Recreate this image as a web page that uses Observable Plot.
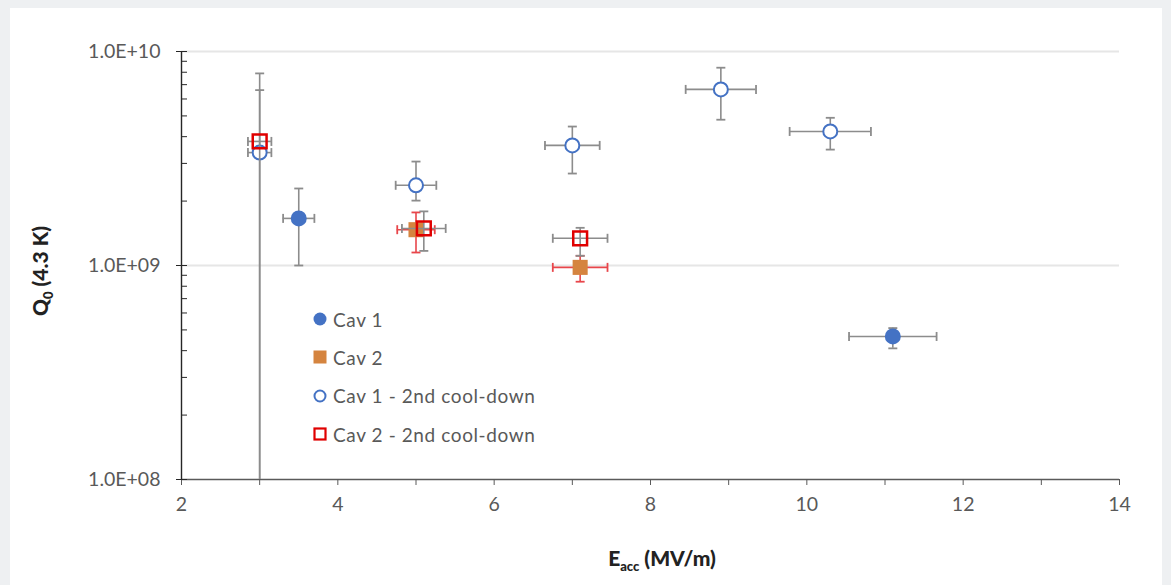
<!DOCTYPE html>
<html><head><meta charset="utf-8">
<script src="https://cdn.jsdelivr.net/npm/d3@7"></script>
<script src="https://cdn.jsdelivr.net/npm/@observablehq/plot@0.6"></script>
<style>
body{margin:0;background:#eef0f2;width:1171px;height:585px;overflow:hidden;position:relative;font-family:Lato,"Open Sans",sans-serif}
#panel{position:absolute;left:10px;top:8px;width:1152px;height:577px;background:#fff}
#chart{position:absolute;left:0;top:0}
#legend{position:absolute;left:312px;top:300px;color:#595959;font-size:19px;letter-spacing:0.6px}
.row{height:38.3px;display:flex;align-items:center}
.row svg{margin-right:5px}
</style>
</head><body>
<div id="panel"></div>
<div id="chart"></div>
<div id="legend"></div>
<script>
// ---- data ----
const seriesNames = ["Cav 1", "Cav 2", "Cav 1 - 2nd cool-down", "Cav 2 - 2nd cool-down"];

const cav1E = [3.5, 11.1];
const cav1Q = [1.66e9, 4.66e8];
const cav1Eerr = [0.2, 0.56];
const cav1Qlo = [1.0e9, 4.1e8];
const cav1Qhi = [2.29e9, 5.1e8];

const cav2E = [5.0, 7.1];
const cav2Q = [1.47e9, 0.98e9];
const cav2Eerr = [0.24, 0.35];
const cav2Qlo = [1.15e9, 0.84e9];
const cav2Qhi = [1.77e9, 1.11e9];

const cav1bE = [3.0, 5.0, 7.0, 8.9, 10.3];
const cav1bQ = [3.37e9, 2.37e9, 3.64e9, 6.65e9, 4.23e9];
const cav1bEerr = [0.15, 0.26, 0.35, 0.45, 0.52];
const cav1bQlo = [1e8, 2.01e9, 2.69e9, 4.8e9, 3.48e9];
const cav1bQhi = [6.6e9, 3.06e9, 4.46e9, 8.4e9, 4.9e9];

const cav2bE = [3.0, 5.1, 7.1];
const cav2bQ = [3.8e9, 1.49e9, 1.34e9];
const cav2bEerr = [0.15, 0.28, 0.35];
const cav2bQlo = [1e8, 1.17e9, 1.11e9];
const cav2bQhi = [7.9e9, 1.79e9, 1.5e9];

const xTicks = [2, 4, 6, 8, 10, 12, 14];
const xMinorTicks = [2, 3, 4, 5, 6, 7, 8, 9, 10, 11, 12, 13, 14];
const yTicks = [1e8, 1e9, 1e10];
const yTickLabels = ["1.0E+08", "1.0E+09", "1.0E+10"];
const yMinorTicks = [2e8,3e8,4e8,5e8,6e8,7e8,8e8,9e8,2e9,3e9,4e9,5e9,6e9,7e9,8e9,9e9];

// ---- build rows ----
const rows = (name, xs, qs, xe, lo, hi) => xs.map((x, i) => ({
  series: name, x, q: qs[i], xlo: x - xe[i], xhi: x + xe[i], qlo: lo[i], qhi: hi[i]
}));
const d1 = rows(seriesNames[0], cav1E, cav1Q, cav1Eerr, cav1Qlo, cav1Qhi);
const d2 = rows(seriesNames[1], cav2E, cav2Q, cav2Eerr, cav2Qlo, cav2Qhi);
const d3b = rows(seriesNames[2], cav1bE, cav1bQ, cav1bEerr, cav1bQlo, cav1bQhi);
const d4 = rows(seriesNames[3], cav2bE, cav2bQ, cav2bEerr, cav2bQlo, cav2bQhi);

const capH = {draw(ctx, size) { const r = Math.sqrt(size / Math.PI); ctx.moveTo(-r, 0); ctx.lineTo(r, 0); }};
const capV = {draw(ctx, size) { const r = Math.sqrt(size / Math.PI); ctx.moveTo(0, -r); ctx.lineTo(0, r); }};

const grey = "#8c8c8c", red = "#e8464b";
function errorBars(data, color) {
  return [
    Plot.ruleX(data, {x: "x", y1: "qlo", y2: "qhi", stroke: color, strokeWidth: 1.6}),
    Plot.ruleY(data, {y: "q", x1: "xlo", x2: "xhi", stroke: color, strokeWidth: 1.6}),
    Plot.dot(data.filter(d => d.qlo > 1e8), {x: "x", y: "qlo", symbol: capH, r: 4.5, stroke: color, strokeWidth: 1.8, fill: "none"}),
    Plot.dot(data, {x: "x", y: "qhi", symbol: capH, r: 4.5, stroke: color, strokeWidth: 1.8, fill: "none"}),
    Plot.dot(data, {x: "xlo", y: "q", symbol: capV, r: 4.5, stroke: color, strokeWidth: 1.8, fill: "none"}),
    Plot.dot(data, {x: "xhi", y: "q", symbol: capV, r: 4.5, stroke: color, strokeWidth: 1.8, fill: "none"})
  ];
}

const fmtY = d => yTickLabels[yTicks.indexOf(d)];

const chart = Plot.plot({
  width: 1171, height: 585,
  marginLeft: 181, marginRight: 52, marginTop: 51, marginBottom: 106,
  style: {background: "transparent", color: "#595959", fontFamily: "Lato, 'Open Sans', sans-serif", fontSize: "19.5px"},
  x: {domain: [2, 14], axis: null},
  y: {type: "log", domain: [1e8, 1e10], axis: null},
  marks: [
    Plot.ruleY([1e9, 1e10], {stroke: "#e6e6e6", strokeWidth: 2}),
    Plot.ruleY([1e8], {stroke: "#5a5a5a", strokeWidth: 1.4}),
    Plot.ruleX([2], {stroke: "#262626", strokeWidth: 1.4}),
    Plot.axisX({ticks: xMinorTicks, tickSize: 6, tickFormat: () => "", stroke: "#5a5a5a", label: null}),
    Plot.axisX({ticks: xTicks, tickSize: 0, tickPadding: 18, label: null}),
    Plot.axisY({ticks: yTicks, tickSize: 5, tickPadding: 16, tickFormat: fmtY, stroke: "#262626", label: null}),
    Plot.axisY({ticks: yTicks, tickSize: -6, tickFormat: () => "", stroke: "#262626", label: null}),
    Plot.axisY({ticks: yMinorTicks, tickSize: -6, tickFormat: () => "", stroke: "#262626", label: null}),
    ...errorBars(d1, grey),
    Plot.dot(d1, {x: "x", y: "q", r: 8, fill: "#4472c4"}),
    ...errorBars(d2, red),
    Plot.dot(d2, {x: "x", y: "q", symbol: "square", r: 8.5, fill: "#d5843f"}),
    ...errorBars(d3b, grey),
    Plot.dot(d3b, {x: "x", y: "q", r: 7, fill: "white", stroke: "#4472c4", strokeWidth: 2}),
    ...errorBars(d4, grey),
    Plot.dot(d4, {x: "x", y: "q", symbol: "square", r: 7.8, fill: "none", stroke: "#e00000", strokeWidth: 2.5})
  ]
});
document.getElementById("chart").appendChild(chart);

// axis titles
const svg = d3.select(chart);
const yt = svg.append("text")
  .attr("transform", "translate(48,271) rotate(-90)")
  .attr("text-anchor", "middle")
  .attr("font-weight", "900").attr("font-size", 21).attr("fill", "#222");
yt.append("tspan").text("Q");
yt.append("tspan").attr("font-size", 13).attr("dy", 5).text("0");
yt.append("tspan").attr("dy", -5).text(" (4.3 K)");

const xt = svg.append("text")
  .attr("x", 662).attr("y", 566)
  .attr("text-anchor", "middle")
  .attr("font-weight", "900").attr("font-size", 21).attr("fill", "#222");
xt.append("tspan").text("E");
xt.append("tspan").attr("font-size", 13).attr("dy", 5).text("acc");
xt.append("tspan").attr("dy", -5).text(" (MV/m)");

// legend
const icons = [
  '<svg width="16" height="16"><circle cx="8" cy="8" r="6.5" fill="#4472c4"/></svg>',
  '<svg width="16" height="16"><rect x="1.5" y="1.5" width="13" height="13" fill="#d5843f"/></svg>',
  '<svg width="16" height="16"><circle cx="8" cy="8" r="5.5" fill="white" stroke="#4472c4" stroke-width="2"/></svg>',
  '<svg width="16" height="16"><rect x="2.5" y="2.5" width="11" height="11" fill="white" stroke="#e00000" stroke-width="2.2"/></svg>'
];
const leg = document.getElementById("legend");
seriesNames.forEach((n, i) => {
  const r = document.createElement("div");
  r.className = "row";
  r.innerHTML = icons[i] + "<span>" + n + "</span>";
  leg.appendChild(r);
});
</script>
</body></html>
